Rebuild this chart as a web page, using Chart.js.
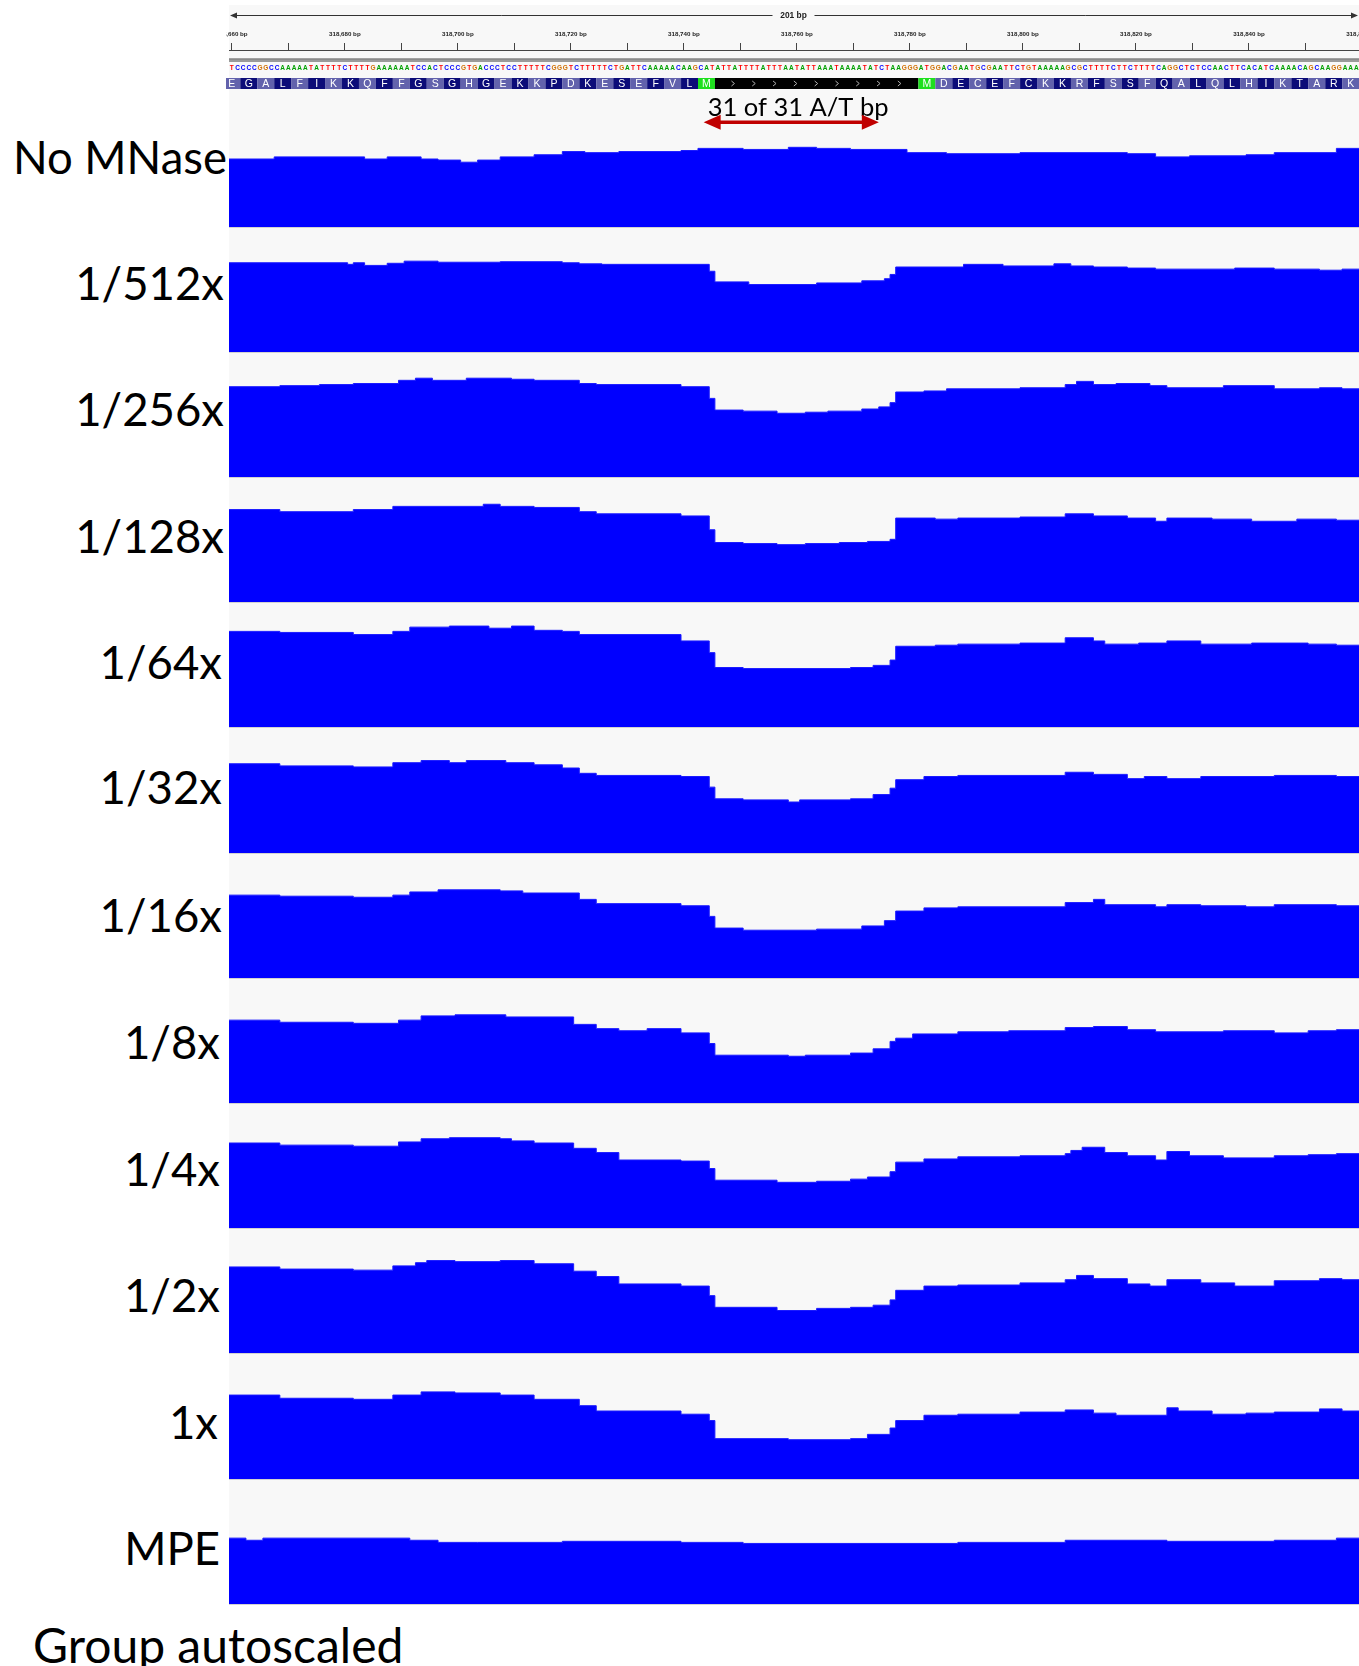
<!DOCTYPE html>
<html>
<head>
<meta charset="utf-8">
<script src="https://cdn.jsdelivr.net/npm/chart.js@4.4.1/dist/chart.umd.min.js"></script>
<style>
  html, body { margin: 0; padding: 0; background: #fff; overflow: hidden; }
  body { width: 1359px; height: 1666px; position: relative; }
  #panel { position: absolute; left: 229px; top: 5px; width: 1130px; height: 1600px; background: #f8f8f8; }
  .track { position: absolute; left: 229px; width: 1130px; height: 119px; }
  .sep { position: absolute; left: 229px; width: 1130px; height: 1px; background: #d2d2d2; }
  .label { position: absolute; font-family: Lato, sans-serif; font-size: 45.5px; line-height: 46px; color: #000; white-space: nowrap; }
  #footnote { position: absolute; left: 33px; font-family: Lato, sans-serif; font-size: 48px; line-height: 48px; color: #000; white-space: nowrap; }
  #header { position: absolute; left: 226px; top: 0; z-index: 2; }
</style>
</head>
<body>
<div id="panel"></div>
<canvas id="header" width="1158" height="130"></canvas>
<div id="footnote">Group autoscaled</div>

<script>
// Window: 200 bases starting at chrI 318,660
const firstBase = 318660;
const spanLabel = '201 bp';
const sequence = 'TCCCCGGCCAAAAATATTTTCTTTTGAAAAAATCCACTCCCGTGACCCTCCTTTTTCGGGTCTTTTTCTGATTCAAAAAC' +
  'AAGCATATTATTTTATTTAATATTAAATAAAATATCTAAGGGATGGACGAATGCGAATTCTGTAAAAAGCGCTTTTCTTC' +
  'TTTTCAGGCTCTCCAACTTCACATCAAAACAGCAAGGAAA';

// Translation: codons left of the first M, the M..M stretch, codons after it
const aminoLeft = 'EGALFIKKQFFGSGHGEKKPDKESEFVL';
const aminoLeftStart = -1;
const orfStart = 83;   // first M
const orfEnd = 122;    // second M
const aminoRight = 'DECEFCKKRFSSFQALQLHIKTARK';

// Annotated A/T run
const atRunFrom = 84;
const atRunTo = 114;
const atRunLabel = '31 of 31 A/T bp';

const trackNames = ['No MNase', '1/512x', '1/256x', '1/128x', '1/64x', '1/32x',
  '1/16x', '1/8x', '1/4x', '1/2x', '1x', 'MPE'];

// Coverage steps: [first base index of step, coverage]
const noMnase = [[0,64],[8,66],[24,64],[28,66],[34,64],[37,63],[41,61],[44,63],[48,66],[54,68],[59,71],[63,70],[69,71],[80,72],[83,74],[91,73],[99,75],[104,74],[110,73],[120,70],[127,69],[140,70],[159,69],[164,66],[170,67],[180,68],[185,70],[196,74]];
const mnase512 = [[0,84],[21,82.5],[22,84],[24,81.5],[28,83.5],[31,85.5],[37,84.5],[48,85],[59,84],[62,83],[66,82.5],[85,76],[86,66],[92,63.5],[104,65],[112,67],[116,69],[117,73],[118,80],[130,82.5],[137,81],[146,83],[149,81],[153,80],[159,79],[164,78],[178,79],[185,78],[193,77],[197,78]];
const mnase256 = [[0,85],[9,86],[16,87],[22,88],[30,91],[33,93],[36,91],[42,93],[50,92],[54,91],[62,88],[65,87],[80,85],[85,74],[86,63],[91,62],[97,60],[102,61],[106,62],[112,64],[115,66],[117,70],[118,80],[123,81],[127,83],[140,84],[148,87],[150,90],[153,87],[157,88],[163,86],[166,84],[176,86],[185,83],[193,84],[197,83]];
const mnase128 = [[0,87],[9,85],[22,87],[29,90],[45,92],[48,90],[54,89],[62,85],[65,83],[80,81],[85,68],[86,56],[91,55],[97,54],[102,55],[108,56],[113,57],[117,59],[118,79],[125,78],[129,79],[140,80],[148,83],[153,81],[159,79],[164,76],[166,79],[174,78],[181,76],[189,78],[196,77]];
const mnase64 = [[0,90],[9,89],[22,87],[29,90],[32,94],[39,95],[46,93],[50,95],[54,91],[59,90],[62,87],[80,81],[85,70],[86,56],[91,55],[110,56],[114,58],[117,63],[118,76],[125,77],[129,78],[140,79],[148,84],[153,81],[155,78],[161,79],[166,81],[172,78],[181,79],[191,78],[196,77]];
const mnase32 = [[0,84],[9,82],[22,81],[29,85],[34,87],[39,85],[42,87],[49,85],[54,83],[59,80],[62,75],[65,73],[80,72],[85,62],[86,51],[91,50],[99,48],[101,50],[110,51],[114,55],[117,61],[118,69],[123,72],[129,73],[148,76],[153,74],[159,70],[162,72],[166,70],[172,72],[185,73],[196,72]];
const mnase16 = [[0,78],[9,77],[22,76],[29,78],[32,81],[37,83],[48,82],[52,80],[62,74],[65,70],[80,68],[85,58],[86,47],[91,45],[104,46],[112,49],[116,54],[118,63],[123,66],[129,67],[148,71],[153,74],[155,69],[164,67],[166,69],[172,68],[180,67],[185,69],[196,68]];
const mnase8 = [[0,78],[9,76],[22,75],[30,78],[34,82],[40,83],[49,81],[61,74],[65,70],[69,68],[74,70],[80,66],[85,56],[86,45],[99,44],[102,45],[110,47],[114,51],[117,58],[118,61],[121,65],[129,67],[138,68],[148,71],[153,72],[159,69],[164,67],[176,68],[185,66],[191,68],[196,69]];
const mnase4 = [[0,80],[9,78],[22,77],[30,81],[34,84],[39,85],[48,84],[50,82],[54,80],[61,75],[65,71],[69,64],[80,63],[85,56],[86,45],[97,43],[104,44],[110,46],[113,48],[117,53],[118,62],[123,65],[129,67],[140,68],[148,70],[149,73],[151,76],[155,71],[159,68],[164,64],[166,72],[170,68],[176,66],[185,68],[191,69],[196,70]];
const mnase2 = [[0,81],[9,79],[22,78],[29,82],[33,85],[35,87],[40,86],[48,87],[54,84],[61,77],[65,72],[69,65],[80,63],[85,54],[86,43],[97,40],[104,42],[110,43],[114,45],[117,50],[118,59],[123,63],[129,64],[140,66],[148,69],[150,73],[153,70],[159,65],[163,63],[166,69],[172,66],[178,63],[185,68],[193,70],[197,69]];
const mnase1 = [[0,79],[9,76],[22,75],[29,79],[34,82],[40,81],[48,79],[54,75],[62,69],[65,64],[80,61],[85,55],[86,38],[99,37],[110,38],[113,42],[117,48],[118,55],[123,60],[129,61],[140,63],[148,65],[153,62],[157,60],[166,67],[168,64],[174,61],[180,62],[185,63],[193,66],[197,64]];
const mpe = [[0,62],[3,60],[6,62],[32,60],[37,58],[44,58],[59,59],[80,58],[91,57],[129,58],[148,60],[166,59],[185,60],[196,62]];

const trackSeries = [noMnase, mnase512, mnase256, mnase128, mnase64, mnase32,
  mnase16, mnase8, mnase4, mnase2, mnase1, mpe];

// group autoscale: shared maximum for every track
const groupMax = 112;

// ---- layout ----
const trackTop0 = 226.5;
const trackPitch = 125.2;
const trackHeight = 119;
const labelBaselines = [172, 298, 424, 551, 677, 802, 930, 1057, 1184, 1310, 1437, 1563];
const labelRights = [227, 224, 224, 224, 222, 222, 222, 220, 220, 220, 218, 220];
const footBaseline = 1661;

const baseColors = { A: '#00a000', C: '#0000ff', G: '#d17105', T: '#ff0000' };
const aaDark = 'rgb(12,12,120)';
const aaLight = 'rgb(98,98,172)';
const aaStart = '#1ee01e';

// Ruler, sequence, translation and the A/T annotation
const headerArt = {
  id: 'headerArt',
  afterDraw(chart) {
    const ctx = chart.ctx;
    const sx = chart.scales.x;
    const px = v => sx.getPixelForValue(v);
    const left = px(-0.5);
    const right = 1132;
    ctx.save();

    // span line with arrows
    const mid = (left + right) / 2;
    ctx.strokeStyle = '#333';
    ctx.fillStyle = '#333';
    ctx.lineWidth = 1;
    ctx.beginPath();
    ctx.moveTo(left + 2, 15.5); ctx.lineTo(mid - 21, 15.5);
    ctx.moveTo(mid + 21, 15.5); ctx.lineTo(right - 2, 15.5);
    ctx.stroke();
    ctx.beginPath();
    ctx.moveTo(left + 1, 15.5); ctx.lineTo(left + 8, 12.5); ctx.lineTo(left + 8, 18.5); ctx.closePath();
    ctx.moveTo(right, 15.5); ctx.lineTo(right - 7, 12.5); ctx.lineTo(right - 7, 18.5); ctx.closePath();
    ctx.fill();
    ctx.font = 'bold 8.4px "Liberation Sans"';
    ctx.textAlign = 'center';
    ctx.textBaseline = 'middle';
    ctx.fillStyle = '#222';
    ctx.fillText(spanLabel, mid, 15.5);

    // separator under the ruler
    ctx.fillStyle = '#9a9a9a';
    ctx.fillRect(left, 58.5, right - left + 30, 3.5);
    ctx.fillStyle = '#7a7a7a';
    ctx.fillRect(left, 58.5, right - left + 30, 1);

    // bases
    ctx.font = 'bold 6.5px "Liberation Sans"';
    for (let i = 0; i < sequence.length; i++) {
      ctx.fillStyle = baseColors[sequence[i]];
      ctx.fillText(sequence[i], px(i), 68.5);
    }

    // amino acids
    const boxTop = 78, boxH = 11;
    const box = (s, e, color) => {
      ctx.fillStyle = color;
      ctx.fillRect(px(s - 0.5), boxTop, px(e - 0.5) - px(s - 0.5), boxH);
    };
    const letter = (s, ch) => {
      ctx.fillStyle = '#fff';
      ctx.font = '10.5px "Liberation Sans"';
      ctx.fillText(ch, px(s + 1), boxTop + boxH / 2 + 0.5);
    };
    for (let j = 0; j < aminoLeft.length; j++) {
      const s = aminoLeftStart + j * 3;
      box(s, s + 3, j % 2 ? aaDark : aaLight);
      letter(s, aminoLeft[j]);
    }
    box(orfStart, orfStart + 3, aaStart);
    letter(orfStart, 'M');
    box(orfStart + 3, orfEnd, '#000');
    ctx.strokeStyle = '#b0b0b0';
    ctx.lineWidth = 1;
    const chevFrom = px(orfStart + 2.5) + 18;
    const chevTo = px(orfEnd - 0.5) - 12;
    for (let cx = chevFrom; cx < chevTo; cx += 20.8) {
      ctx.beginPath();
      ctx.moveTo(cx - 1.5, boxTop + 3);
      ctx.lineTo(cx + 1.5, boxTop + 5.5);
      ctx.lineTo(cx - 1.5, boxTop + 8);
      ctx.stroke();
    }
    box(orfEnd, orfEnd + 3, aaStart);
    letter(orfEnd, 'M');
    for (let j = 0; j < aminoRight.length; j++) {
      const s = orfEnd + 3 + j * 3;
      box(s, s + 3, j % 2 ? aaDark : aaLight);
      letter(s, aminoRight[j]);
    }

    // A/T run annotation
    const a0 = px(atRunFrom - 0.5), a1 = px(atRunTo + 0.5), ay = 122.3;
    ctx.fillStyle = '#000';
    ctx.font = '25.5px Lato';
    ctx.textAlign = 'left';
    ctx.textBaseline = 'alphabetic';
    ctx.fillText(atRunLabel, a0 + 4, 116);
    ctx.strokeStyle = '#c00000';
    ctx.fillStyle = '#c00000';
    ctx.lineWidth = 3.5;
    ctx.beginPath();
    ctx.moveTo(a0 + 12, ay); ctx.lineTo(a1 - 12, ay);
    ctx.stroke();
    ctx.beginPath();
    ctx.moveTo(a0, ay); ctx.lineTo(a0 + 17, ay - 7.5); ctx.lineTo(a0 + 17, ay + 7.5); ctx.closePath();
    ctx.moveTo(a1, ay); ctx.lineTo(a1 - 17, ay - 7.5); ctx.lineTo(a1 - 17, ay + 7.5); ctx.closePath();
    ctx.fill();
    ctx.restore();
  }
};

new Chart(document.getElementById('header'), {
  type: 'line',
  data: { datasets: [] },
  options: {
    responsive: false,
    animation: false,
    events: [],
    layout: { padding: { left: 3, right: 0, top: 0, bottom: 0 }, autoPadding: false },
    plugins: { legend: { display: false }, tooltip: { enabled: false } },
    scales: {
      x: {
        type: 'linear',
        position: 'top',
        min: -0.5,
        max: 203.9,
        afterFit: scale => {
          // keep the ruler on the same base grid as the tracks
          scale.height = 50;
          scale.paddingLeft = 0;
          scale.paddingRight = 0;
        },
        ticks: {
          stepSize: 10,
          maxTicksLimit: 50,
          includeBounds: false,
          autoSkip: false,
          maxRotation: 0,
          padding: 5,
          color: '#222',
          font: { family: 'Liberation Sans', size: 6.2, weight: 'bold' },
          callback: v => (v % 20 === 0 ? (firstBase + v).toLocaleString('en-US') + ' bp' : '')
        },
        grid: { drawOnChartArea: false, tickLength: 7, color: '#444', lineWidth: 1 },
        border: { color: '#444', width: 1 }
      },
      y: { display: false, min: 0, max: 1 }
    }
  },
  plugins: [headerArt]
});

// Coverage tracks
trackSeries.forEach((series, k) => {
  const baseline = Math.round(trackTop0 + trackPitch * k);

  const holder = document.createElement('div');
  holder.className = 'track';
  holder.style.top = (baseline - trackHeight) + 'px';
  const canvas = document.createElement('canvas');
  canvas.width = 1130;
  canvas.height = trackHeight;
  holder.appendChild(canvas);
  document.body.appendChild(holder);

  const sep = document.createElement('div');
  sep.className = 'sep';
  sep.style.top = baseline + 'px';
  document.body.appendChild(sep);

  const label = document.createElement('div');
  label.className = 'label';
  label.textContent = trackNames[k];
  label.style.top = (labelBaselines[k] - 38) + 'px';
  label.style.right = (1359 - labelRights[k]) + 'px';
  document.body.appendChild(label);

  const points = series.map(([n, v]) => ({ x: n - 0.5, y: v }));
  points.push({ x: 199.5, y: series[series.length - 1][1] });

  new Chart(canvas, {
    type: 'line',
    data: {
      datasets: [{
        data: points,
        stepped: true,
        fill: 'origin',
        backgroundColor: '#0000ff',
        borderColor: '#1a1aff',
        borderWidth: 1,
        pointRadius: 0
      }]
    },
    options: {
      responsive: false,
      animation: false,
      events: [],
      layout: { padding: 0 },
      plugins: { legend: { display: false }, tooltip: { enabled: false } },
      scales: {
        x: { type: 'linear', display: false, min: -0.5, max: 199.5 },
        y: { display: false, min: 0, max: groupMax }
      }
    }
  });
});

document.getElementById('footnote').style.top = (footBaseline - 40) + 'px';
</script>
</body>
</html>
